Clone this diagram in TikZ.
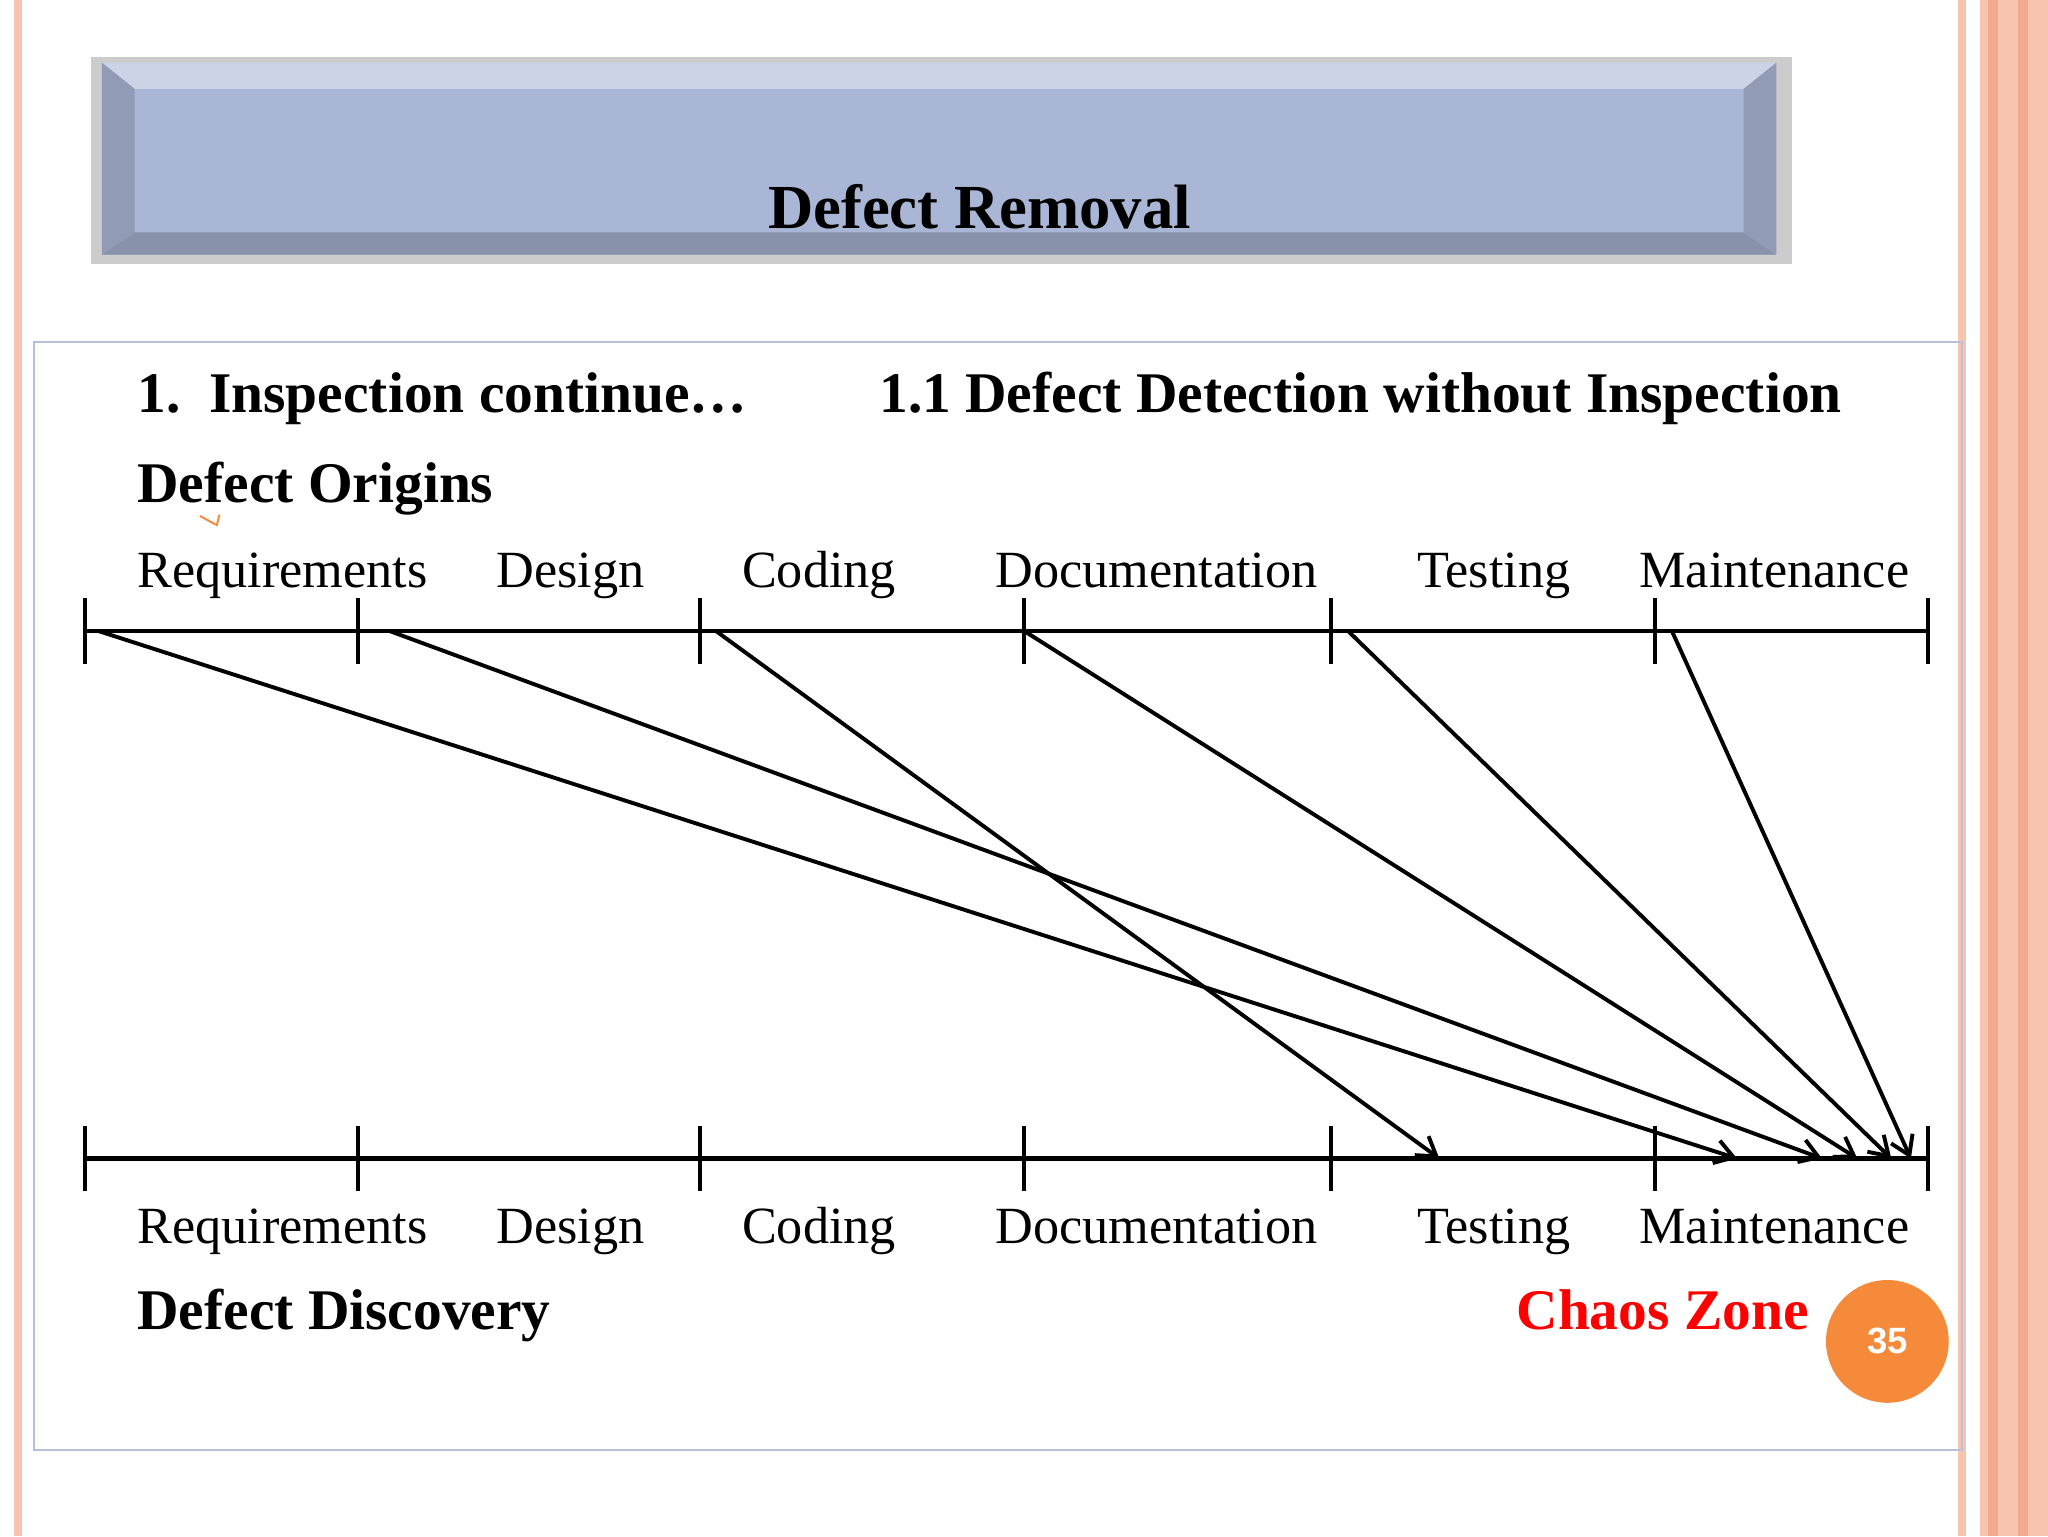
\documentclass[tikz,border=0pt]{standalone}
\usepackage{fontspec}
\setmainfont{Liberation Serif}
\newfontfamily\sansf{Liberation Sans}
\usetikzlibrary{arrows.meta}
\definecolor{peach}{HTML}{F7C4B0}
\definecolor{peachd}{HTML}{F2A98C}
\definecolor{titlef}{HTML}{AAB6D5}
\definecolor{frame}{HTML}{B8BFDD}
\definecolor{orng}{HTML}{F58A3A}
\tikzset{
 axis/.style={line width=3.2pt,black},
 tick/.style={line width=3.2pt,black},
 arr/.style={line width=3pt,black,-{Straight Barb[length=14pt,width=18pt,line width=3pt]}},
 lab/.style={anchor=base west,font=\fontsize{40}{44}\selectfont,inner sep=0},
 bold/.style={anchor=base west,font=\fontsize{44}{48}\selectfont\bfseries,inner sep=0}
}
\begin{document}
\begin{tikzpicture}[x=1pt,y=-1pt]
\useasboundingbox (0,0) rectangle (1568,1176);
\fill[white] (0,0) rectangle (1568,1176);
% side decorations
\fill[peach] (11,0) rectangle (17,1176);
\fill[peach] (1499,0) rectangle (1505,1176);
\fill[peach] (1516,0) rectangle (1568,1176);
\fill[peachd] (1522,0) rectangle (1530,1176);
\fill[peachd] (1545,0) rectangle (1553,1176);
% title box
\fill[gray!40] (70,44) rectangle (1372,202);
\fill[titlef] (78,48) rectangle (1360,195);
\fill[titlef!60!white] (78,48) -- (1360,48) -- (1335,68) -- (103,68) -- cycle;
\fill[titlef!80!black] (78,195) -- (1360,195) -- (1335,178) -- (103,178) -- cycle;
\fill[titlef!85!black] (78,48) -- (103,68) -- (103,178) -- (78,195) -- cycle;
\fill[titlef!85!black] (1360,48) -- (1335,68) -- (1335,178) -- (1360,195) -- cycle;
\node[font=\fontsize{48}{52}\selectfont\bfseries,anchor=base] (title) at (750,175) {Defect Removal};
% frame
\draw[frame,line width=1.5pt] (26,262) rectangle (1502,1110);
\node[bold] (h1) at (105,316) {1.\ \ Inspection continue…};
\node[bold] (h2) at (673,316) {1.1 Defect Detection without Inspection};
\node[bold] (orig) at (105,385) {Defect Origins};
\draw[orng,line width=1.5pt] (153,395) -- (166,402) -- (168,394);
% labels
\foreach \t/\x [count=\i] in {Requirements/105,Design/380,Coding/568,Documentation/762,Testing/1085,Maintenance/1255}{
 \node[lab] (t\i) at (\x,450) {\t};
 \node[lab] (b\i) at (\x,952) {\t};
}
% axes
\foreach \x [count=\i] in {65,274,536,784,1019,1267,1476}{
 \coordinate (u\i) at (\x,483);
 \coordinate (d\i) at (\x,887);
 \draw[tick] (\x,458) -- (\x,508);
 \draw[tick] (\x,862) -- (\x,912);
}
\draw[axis] (u1) -- (u7);
\draw[axis] (d1) -- (d7);
% arrows
\coordinate (s1) at (75,483); \coordinate (e1) at (1330,887);
\coordinate (s2) at (298,483); \coordinate (e2) at (1395,887);
\coordinate (s3) at (548,483); \coordinate (e3) at (1102,887);
\coordinate (s4) at (784,483); \coordinate (e4) at (1422,887);
\coordinate (s5) at (1032,483); \coordinate (e5) at (1448,887);
\coordinate (s6) at (1280,483); \coordinate (e6) at (1463,887);
\foreach \i in {1,...,6}{\draw[arr] (s\i) -- (e\i);}
\node[bold] (disc) at (105,1018) {Defect Discovery};
\node[bold,anchor=base east,text=red] (chaos) at (1385,1018) {Chaos Zone};
\node[circle,fill=orng,minimum size=94pt,inner sep=0,text=white,font=\sansf\bfseries\fontsize{28}{30}\selectfont] (pg) at (1445,1027) {35};
\end{tikzpicture}
\end{document}
